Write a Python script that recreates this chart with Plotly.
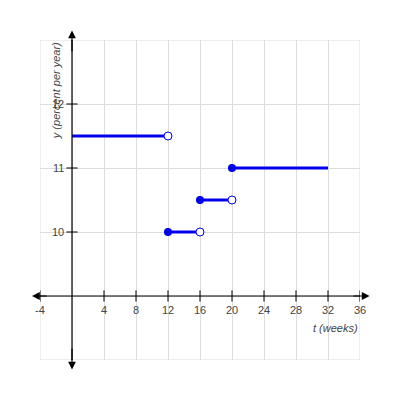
import plotly.graph_objects as go

# step segments: (start, end, value)
seg_start = [0, 12, 16, 20]
seg_end = [12, 16, 20, 32]
seg_value = [11.5, 10, 10.5, 11]
closed_x = [12, 16, 20]
closed_y = [10, 10.5, 11]
open_x = [12, 16, 20]
open_y = [11.5, 10, 10.5]

x_ticks = [-4, 4, 8, 12, 16, 20, 24, 28, 32, 36]
y_ticks = [10, 11, 12]

BLUE = "#0000ee"
fig = go.Figure()

# axis tick marks
fig.add_trace(go.Scatter(x=x_ticks, y=[9] * len(x_ticks), mode="markers",
                         marker=dict(symbol="line-ns", size=8, line=dict(color="black", width=1)),
                         hoverinfo="skip", showlegend=False))
fig.add_trace(go.Scatter(x=[0] * len(y_ticks), y=y_ticks, mode="markers",
                         marker=dict(symbol="line-ew", size=8, line=dict(color="black", width=1)),
                         hoverinfo="skip", showlegend=False))

for a, b, v in zip(seg_start, seg_end, seg_value):
    fig.add_trace(go.Scatter(x=[a, b], y=[v, v], mode="lines",
                             line=dict(color=BLUE, width=3), showlegend=False))

fig.add_trace(go.Scatter(x=closed_x, y=closed_y, mode="markers",
                         marker=dict(color=BLUE, size=8), showlegend=False))
fig.add_trace(go.Scatter(x=open_x, y=open_y, mode="markers",
                         marker=dict(color="white", size=8, line=dict(color=BLUE, width=1)),
                         showlegend=False))

# axis lines
fig.add_shape(type="line", x0=-4.6, x1=36.6, y0=9, y1=9, line=dict(color="black", width=1.2))
fig.add_shape(type="line", x0=0, x1=0, y0=7.9, y1=13.1, line=dict(color="black", width=1.2))
fig.add_shape(type="rect", x0=-4, x1=36, y0=8, y1=13, line=dict(color="#dddddd", width=1), layer="below")

# arrowheads
for ax, ay, x, y in [(-3, 9, -5, 9), (35, 9, 37.2, 9), (0, 12.8, 0, 13.15), (0, 8.2, 0, 7.85)]:
    fig.add_annotation(x=x, y=y, ax=ax, ay=ay, xref="x", yref="y", axref="x", ayref="y",
                       showarrow=True, arrowhead=2, arrowsize=1.3, arrowwidth=1.2,
                       arrowcolor="black", text="")

font = dict(family="Liberation Sans, Arial", size=11, color="#444")
for t in x_ticks:
    fig.add_annotation(x=t, y=9, yshift=-14, text=str(t), showarrow=False, font=font)
for t in y_ticks:
    fig.add_annotation(x=0, y=t, xshift=-6, xanchor="right", text=str(t), showarrow=False, font=font)

fig.add_annotation(x=36, y=8.5, xanchor="right", text="<i>t (weeks)</i>", showarrow=False, font=font)
fig.add_annotation(x=-2, y=12.2, text="<i>y (percent per year)</i>", textangle=-90,
                   showarrow=False, font=font)

fig.update_xaxes(range=[-4, 36], showticklabels=False, showgrid=True,
                 gridcolor="#dddddd", zeroline=False, tickmode="linear", dtick=4, tick0=0)
fig.update_yaxes(range=[8, 13], dtick=1, showticklabels=False, showgrid=True,
                 gridcolor="#dddddd", zeroline=False)
fig.update_layout(width=400, height=400, margin=dict(l=32, r=48, t=32, b=48),
                  plot_bgcolor="white", paper_bgcolor="white")

fig.write_html("out.html")
